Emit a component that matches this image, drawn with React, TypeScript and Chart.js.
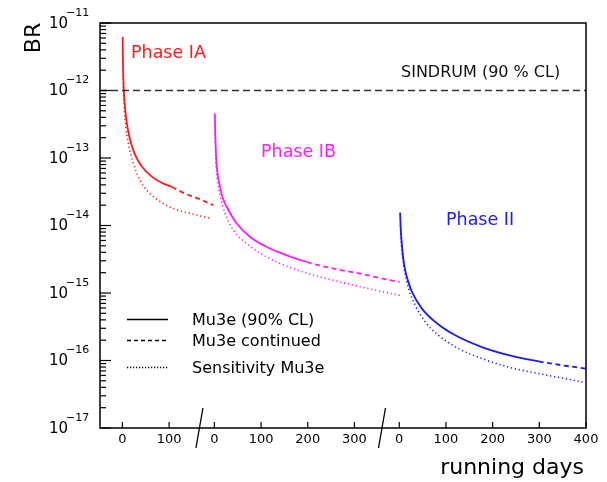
import React, { useEffect, useRef } from "react";
import { Chart, registerables } from "chart.js";

Chart.register(...registerables);

// ---- data ----
const phaseNames = ["Phase IA", "Phase IB", "Phase II"];
const phaseColors = ["#ff1a1a", "#ff1aff", "#1a1aff"];
// global position (in days on the broken axis) where each phase's "0" sits
const phaseStart = [0, 197, 593];
const axisBreaks = [165, 556];
const phaseTicks = [
  [0, 100],
  [0, 100, 200, 300],
  [0, 100, 200, 300, 400],
];
// day (local) after which the limit curve is drawn dashed ("continued")
const continuedFrom = [106, 198, 298.5];

const yDecades = [-17, -16, -15, -14, -13, -12, -11];
const sindrumLimit = 1e-12;

const iaLimitDays = [0.5, 1, 2, 3, 5, 8, 12, 16.5, 27, 42, 63, 84, 106, 134, 163, 195];
const iaLimit = [6.2e-12, 3.1e-12, 1.55e-12, 1.0e-12, 6.2e-13, 3.9e-13, 2.6e-13, 1.85e-13, 1.12e-13, 7.4e-14, 5.3e-14, 4.3e-14, 3.72e-14, 2.97e-14, 2.5e-14, 2.0e-14];
const iaSensDays = [1.5, 3, 5.8, 12.9, 23.6, 37.9, 55.7, 77.2, 98.6, 127.3, 155.8, 191.6];
const iaSens = [1.7e-12, 8.0e-13, 3.62e-13, 1.63e-13, 8.26e-14, 4.68e-14, 3.13e-14, 2.36e-14, 1.92e-14, 1.62e-14, 1.45e-14, 1.26e-14];

const ibLimitDays = [1, 2, 3.5, 5.1, 8, 12.2, 18, 26.6, 48, 76.5, 112.3, 155.2, 198, 255, 312, 369.5, 397];
const ibLimit = [4.55e-13, 2.1e-13, 1.15e-13, 7.5e-14, 5.2e-14, 3.72e-14, 2.55e-14, 1.88e-14, 1.07e-14, 6.76e-15, 4.8e-15, 3.62e-15, 2.88e-15, 2.3e-15, 1.94e-15, 1.58e-15, 1.46e-15];
const ibSensDays = [1.5, 3, 6, 12.2, 22.9, 40.7, 69.4, 112.3, 169.3, 226.5, 283.8, 340.8, 397.7];
const ibSens = [2.6e-13, 1.0e-13, 5.0e-14, 2.8e-14, 1.5e-14, 8.5e-15, 5.4e-15, 3.41e-15, 2.3e-15, 1.73e-15, 1.38e-15, 1.12e-15, 9.2e-16];

const iiLimitDays = [1.8, 3, 5.8, 9, 12.9, 19, 27.2, 48.6, 77.2, 120, 177, 234, 298.5, 348.7, 399];
const iiLimit = [1.55e-14, 9.5e-15, 5.0e-15, 3.1e-15, 2.15e-15, 1.5e-15, 1.04e-15, 5.87e-16, 3.72e-16, 2.36e-16, 1.58e-16, 1.2e-16, 9.7e-17, 8.5e-17, 7.6e-17];
const iiSensDays = [2.5, 5, 9.2, 20, 34.3, 55.7, 84.2, 127, 177, 234, 298.5, 348.7, 399];
const iiSens = [1.0e-14, 4.9e-15, 2.6e-15, 1.16e-15, 6.58e-16, 3.72e-16, 2.36e-16, 1.5e-16, 1.07e-16, 8.0e-17, 6.4e-17, 5.5e-17, 4.7e-17];

const limitDays = [iaLimitDays, ibLimitDays, iiLimitDays];
const limitVals = [iaLimit, ibLimit, iiLimit];
const sensDays = [iaSensDays, ibSensDays, iiSensDays];
const sensVals = [iaSens, ibSens, iiSens];

const legendLabels = ["Mu3e (90% CL)", "Mu3e continued", "Sensitivity Mu3e"];

const FONT = "'DejaVu Sans', 'Liberation Sans', sans-serif";

const decorPlugin = {
  id: "decor",
  afterDatasetsDraw(chart: any) {
    const ctx: CanvasRenderingContext2D = chart.ctx;
    const { left, right, top, bottom } = chart.chartArea;
    const xs = chart.scales.x;
    const ys = chart.scales.y;
    ctx.save();
    ctx.strokeStyle = "#000";
    ctx.fillStyle = "#000";

    // frame
    ctx.lineWidth = 1.5;
    ctx.setLineDash([]);
    ctx.strokeRect(left, top, right - left, bottom - top);

    // y ticks (major + minor), inward
    ctx.lineWidth = 1.2;
    yDecades.forEach((d) => {
      const yp = ys.getPixelForValue(Math.pow(10, d));
      ctx.beginPath();
      ctx.moveTo(left, yp);
      ctx.lineTo(left + 11, yp);
      ctx.stroke();
      if (d < -11) {
        for (let m = 2; m <= 9; m++) {
          const ym = ys.getPixelForValue(m * Math.pow(10, d));
          ctx.beginPath();
          ctx.moveTo(left, ym);
          ctx.lineTo(left + 6, ym);
          ctx.stroke();
        }
      }
      // label 10^d
      ctx.font = `15px ${FONT}`;
      ctx.textAlign = "right";
      ctx.textBaseline = "middle";
      ctx.fillText("10", 68, yp + 1);
      ctx.font = `11px ${FONT}`;
      ctx.textAlign = "left";
      ctx.fillText("\u2212" + String(-d), 66, yp - 10);
    });

    // x ticks per phase
    ctx.font = `13px ${FONT}`;
    ctx.textAlign = "center";
    ctx.textBaseline = "middle";
    phaseTicks.forEach((ticks, i) => {
      ticks.forEach((t) => {
        const xp = xs.getPixelForValue(phaseStart[i] + t);
        ctx.beginPath();
        ctx.moveTo(xp, bottom);
        ctx.lineTo(xp, bottom - 6);
        ctx.stroke();
        ctx.fillText(String(t), xp, bottom + 12);
      });
    });

    // axis breaks
    ctx.lineWidth = 1.3;
    axisBreaks.forEach((b) => {
      const xp = xs.getPixelForValue(b);
      ctx.beginPath();
      ctx.moveTo(xp + 3.5, bottom - 20);
      ctx.lineTo(xp - 3.5, bottom + 20);
      ctx.stroke();
    });

    // axis titles
    ctx.font = `22px ${FONT}`;
    ctx.textAlign = "right";
    ctx.textBaseline = "middle";
    ctx.fillText("running days", right - 2, 468);
    ctx.save();
    ctx.translate(34, 38);
    ctx.rotate(-Math.PI / 2);
    ctx.textAlign = "center";
    ctx.fillText("BR", 0, 0);
    ctx.restore();

    // SINDRUM label
    ctx.font = `16px ${FONT}`;
    ctx.textAlign = "left";
    ctx.fillStyle = "#111";
    ctx.fillText("SINDRUM (90 % CL)", 401, 73);

    // phase labels
    ctx.font = `17.5px ${FONT}`;
    const phaseLabelPos = [
      [131, 53],
      [261, 152],
      [446, 220],
    ];
    phaseNames.forEach((n, i) => {
      ctx.fillStyle = phaseColors[i];
      ctx.fillText(n, phaseLabelPos[i][0], phaseLabelPos[i][1]);
    });

    // legend
    const legY = [319.5, 340.5, 367.5];
    const dashes = [[], [4, 3], [1.2, 1.8]];
    ctx.strokeStyle = "#000";
    ctx.fillStyle = "#000";
    ctx.font = `16px ${FONT}`;
    legendLabels.forEach((l, i) => {
      ctx.lineWidth = 1.3;
      ctx.setLineDash(dashes[i]);
      ctx.beginPath();
      ctx.moveTo(127, legY[i]);
      ctx.lineTo(168, legY[i]);
      ctx.stroke();
      ctx.setLineDash([]);
      ctx.fillText(l, 192, legY[i] + 1.5);
    });
    ctx.restore();
  },
};

export default function App() {
  const ref = useRef<HTMLCanvasElement | null>(null);
  useEffect(() => {
    if (!ref.current) return;
    const datasets: any[] = [];
    // SINDRUM limit line
    datasets.push({
      data: [
        { x: -48, y: sindrumLimit },
        { x: 993, y: sindrumLimit },
      ],
      borderColor: "#333",
      borderWidth: 1.4,
      borderDash: [7, 4],
      pointRadius: 0,
    });
    for (let i = 0; i < 3; i++) {
      const off = phaseStart[i];
      const cont = off + continuedFrom[i];
      datasets.push({
        data: limitDays[i].map((d, k) => ({ x: off + d, y: limitVals[i][k] })),
        borderColor: phaseColors[i],
        borderWidth: 1.8,
        pointRadius: 0,
        cubicInterpolationMode: "monotone",
        segment: {
          borderDash: (c: any) => (c.p0.parsed.x >= cont - 0.01 ? [5, 3.5] : undefined),
        },
      });
      datasets.push({
        data: sensDays[i].map((d, k) => ({ x: off + d, y: sensVals[i][k] })),
        borderColor: phaseColors[i],
        borderWidth: 1.6,
        borderDash: [1.2, 2.8],
        pointRadius: 0,
        cubicInterpolationMode: "monotone",
      });
    }
    const chart = new Chart(ref.current, {
      type: "line",
      data: { datasets },
      options: {
        responsive: false,
        animation: false,
        parsing: false as any,
        layout: { padding: { left: 100, top: 23, right: 21, bottom: 54 } },
        plugins: { legend: { display: false }, tooltip: { enabled: false } },
        scales: {
          x: { type: "linear", min: -48, max: 993, display: false },
          y: { type: "logarithmic", min: 1e-17, max: 1e-11, display: false },
        },
      },
      plugins: [decorPlugin],
    });
    return () => chart.destroy();
  }, []);
  return (
    <div style={{ position: "absolute", left: 0, top: 0, width: 607, height: 482, background: "#fff" }}>
      <canvas ref={ref} width={607} height={482} />
    </div>
  );
}
